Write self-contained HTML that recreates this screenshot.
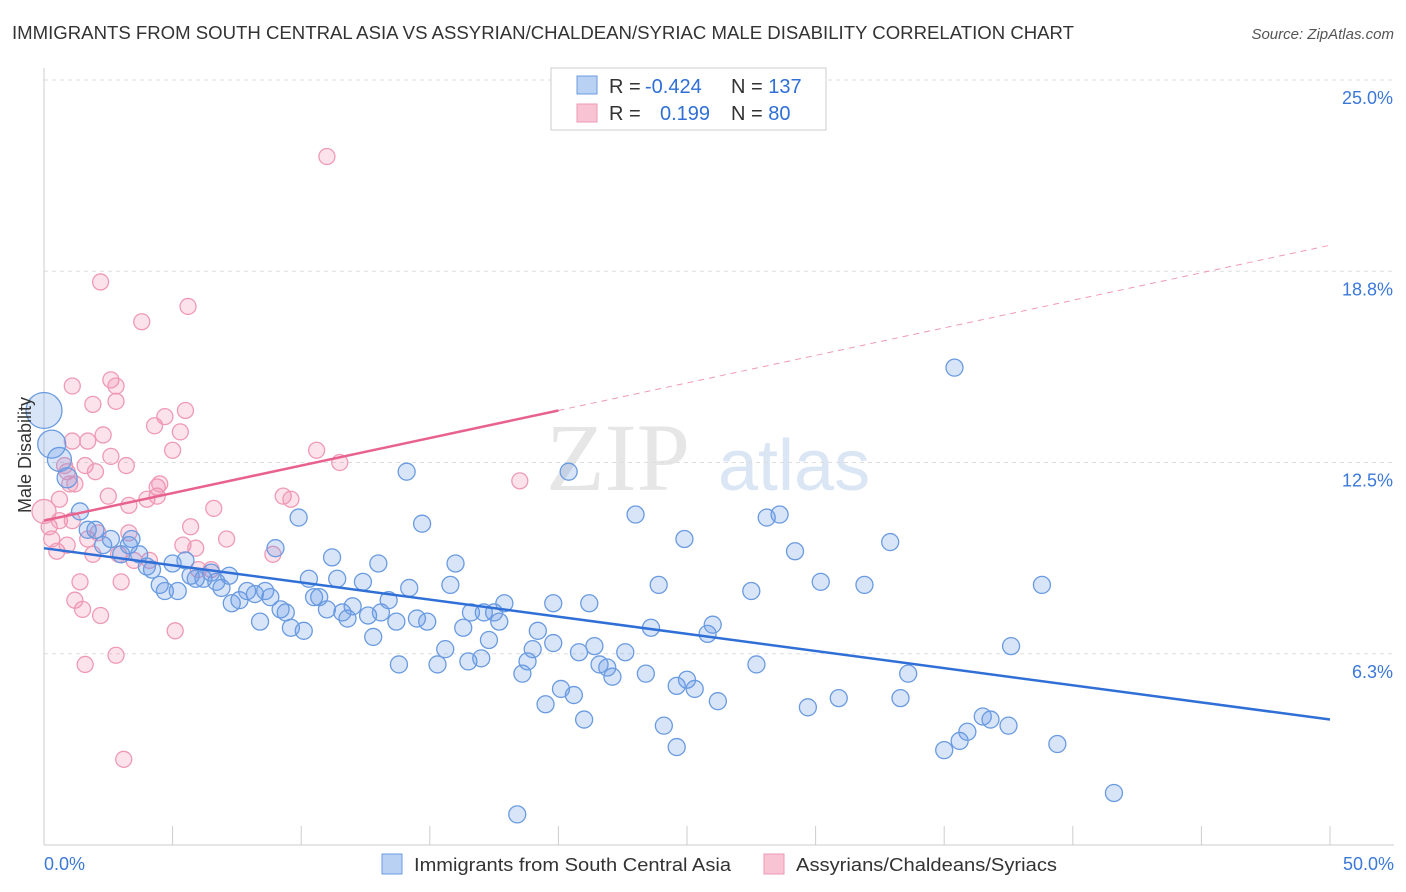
<!DOCTYPE html>
<html><head><meta charset="utf-8"><style>
body{margin:0;background:#fff;font-family:"Liberation Sans",sans-serif;}
svg{display:block}
</style></head><body>
<svg id="c" width="1406" height="892">
<text x="12" y="39" font-size="18" fill="#333" textLength="1062" lengthAdjust="spacingAndGlyphs">IMMIGRANTS FROM SOUTH CENTRAL ASIA VS ASSYRIAN/CHALDEAN/SYRIAC MALE DISABILITY CORRELATION CHART</text>
<text x="1394" y="39" font-size="15" fill="#555" font-style="italic" text-anchor="end">Source: ZipAtlas.com</text>
<text x="690" y="490" font-size="96" fill="#e6e6e6" text-anchor="end" font-family="Liberation Serif">ZIP</text>
<text x="718" y="490" font-size="72" fill="#dbe6f5">atlas</text>
<g id="grid"></g><g id="axes"></g><g id="marks"></g>
<text x="31" y="455" font-size="18" fill="#333" text-anchor="middle" transform="rotate(-90 31 455)">Male Disability</text>
<rect x="551" y="68" width="275" height="62" fill="#fff" stroke="#ccc"/>
<rect x="577" y="76" width="20" height="18" fill="#b9d1f3" stroke="#6a9be0"/>
<rect x="577" y="104" width="20" height="18" fill="#f8c4d4" stroke="#ef9ab5"/>
<text font-size="20" fill="#333"><tspan x="609" y="93">R = </tspan><tspan x="645" fill="#2f6fd6">-0.424</tspan><tspan x="731">N = </tspan><tspan fill="#2f6fd6">137</tspan></text>
<text font-size="20" fill="#333"><tspan x="609" y="120">R = </tspan><tspan x="660" fill="#2f6fd6">0.199</tspan><tspan x="731">N = </tspan><tspan fill="#2f6fd6">80</tspan></text>
<text x="44" y="870" font-size="18" fill="#3b78d8">0.0%</text>
<text x="1394" y="870" font-size="18" fill="#3b78d8" text-anchor="end">50.0%</text>
<rect x="382" y="854" width="20" height="20" fill="#b9d1f3" stroke="#6a9be0"/>
<text x="414" y="871" font-size="18" fill="#333" textLength="317" lengthAdjust="spacingAndGlyphs">Immigrants from South Central Asia</text>
<rect x="764" y="854" width="20" height="20" fill="#f8c4d4" stroke="#ef9ab5"/>
<text x="796" y="871" font-size="18" fill="#333" textLength="261" lengthAdjust="spacingAndGlyphs">Assyrians/Chaldeans/Syriacs</text>
</svg>
<script>
const yTicks=[6.25,12.5,18.75,25];
const yTickLabels=["6.3%","12.5%","18.8%","25.0%"];
const blueX=[0,0.3,0.6,0.9,1.4,1.7,2.0,2.3,2.6,3.0,3.3,3.4,3.7,4.0,4.2,4.5,4.7,5.0,5.2,5.5,5.7,5.9,6.2,6.5,6.7,6.9,7.2,7.3,7.6,7.9,8.2,8.4,8.6,8.8,9.0,9.2,9.4,9.6,9.9,10.1,10.3,10.5,10.7,11.0,11.2,11.4,11.6,11.8,12.0,12.4,12.6,12.8,13.0,13.1,13.4,13.7,13.8,14.1,14.2,14.5,14.7,14.9,15.3,15.6,15.8,16.0,16.3,16.5,16.6,17.0,17.1,17.3,17.5,17.7,17.9,18.4,18.6,18.8,19.0,19.2,19.5,19.8,19.8,20.1,20.4,20.6,20.8,21.0,21.2,21.4,21.6,21.9,22.1,22.6,23.0,23.4,23.6,23.9,24.1,24.6,24.6,24.9,25.0,25.3,25.8,26.0,26.2,27.5,27.7,28.1,28.6,29.2,29.7,30.2,30.9,31.9,32.9,33.3,33.6,35.0,35.4,35.6,35.9,36.5,36.8,37.5,37.6,38.8,39.4,41.6];
const blueY=[14.2,13.1,12.6,12.0,10.9,10.3,10.3,9.8,10.0,9.5,9.8,10.0,9.5,9.1,9.0,8.5,8.3,9.2,8.3,9.3,8.8,8.7,8.7,8.9,8.6,8.4,8.8,7.9,8.0,8.3,8.2,7.3,8.3,8.1,9.7,7.7,7.6,7.1,10.7,7.0,8.7,8.1,8.1,7.7,9.4,8.7,7.6,7.4,7.8,8.6,7.5,6.8,9.2,7.6,8.0,7.3,5.9,12.2,8.4,7.4,10.5,7.3,5.9,6.4,8.5,9.2,7.1,6.0,7.6,6.1,7.6,6.7,7.6,7.3,7.9,1.0,5.6,6.0,6.4,7.0,4.6,7.9,6.6,5.1,12.2,4.9,6.3,4.1,7.9,6.5,5.9,5.8,5.5,6.3,10.8,5.6,7.1,8.5,3.9,5.2,3.2,10.0,5.4,5.1,6.9,7.2,4.7,8.3,5.9,10.7,10.8,9.6,4.5,8.6,4.8,8.5,9.9,4.8,5.6,3.1,15.6,3.4,3.7,4.2,4.1,3.9,6.5,8.5,3.3,1.7];
const blueR=[18,14,12,10];
const pinkX=[0,0.2,0.3,0.5,0.6,0.8,0.9,1.0,1.1,1.2,1.4,1.5,1.6,1.7,1.9,2.0,2.1,2.2,2.2,2.3,2.5,2.6,2.6,2.8,2.9,3.0,3.1,3.2,3.3,3.3,3.5,3.8,4.0,4.1,4.3,4.4,4.4,4.5,4.7,5.0,5.1,5.3,5.4,5.5,5.6,5.7,5.9,6.0,6.5,6.6,7.1,8.9,9.3,9.6,10.6,11.0,11.5,18.5,1.1,1.9,1.7,2.8,0.9,0.6,1.2,1.6,2.8,1.1];
const pinkY=[10.9,10.4,10.0,9.6,10.6,12.4,12.2,11.8,10.6,11.8,8.6,7.7,12.4,10.0,9.5,12.2,10.2,18.4,7.5,13.4,11.4,12.7,15.2,15.0,9.5,8.6,2.8,12.4,10.2,11.1,9.3,17.1,11.3,9.3,13.7,11.4,11.7,11.8,14.0,12.9,7.0,13.5,9.8,14.2,17.6,10.4,9.7,9.0,9.0,11.0,10.0,9.5,11.4,11.3,12.9,22.5,12.5,11.9,15.0,14.4,13.2,14.5,9.8,11.3,8.0,5.9,6.2,13.2];
const blueTrend=[9.7,4.1];
const pinkTrend=[10.6,19.6];
const pinkSolidEnd=20;

const X=v=>44+v*(1286/50), Y=v=>845-v*(765/25);
const NS="http://www.w3.org/2000/svg";
function mk(t,a,p){const e=document.createElementNS(NS,t);for(const k in a)e.setAttribute(k,a[k]);p.appendChild(e);return e;}
const grid=document.getElementById('grid'),axes=document.getElementById('axes'),marks=document.getElementById('marks');
yTicks.forEach((t,i)=>{
 const l=mk('line',{x1:44,x2:1394,y1:Y(t),y2:Y(t),stroke:'#ddd','stroke-dasharray':'4,4'},grid);
 
 
 const tx=mk('text',{x:1393,y:Y(t)+24,'font-size':18,fill:'#3b78d8','text-anchor':'end'},grid);
 tx.textContent=yTickLabels[i];
 
 
});
const ax=mk('line',{x1:44,x2:44,y1:68,y2:845,stroke:'#ccc'},axes);


const bx=mk('line',{x1:44,x2:1394,y1:845,y2:845,stroke:'#ccc'},axes);


for(let v=0;v<=50;v+=5){
 const tk=mk('line',{x1:X(v),x2:X(v),y1:826,y2:845,stroke:'#ccc'},axes);
 
 
}
pinkX.forEach((x,i)=>{
 const c=mk('circle',{cx:X(x),cy:Y(pinkY[i]),r:i===0?12:8,fill:'rgba(240,140,175,0.25)',stroke:'#ef9ab5','stroke-width':1.3},marks);
 
 
});
blueX.forEach((x,i)=>{
 const c=mk('circle',{cx:X(x),cy:Y(blueY[i]),r:blueR[i]||8.5,fill:'rgba(100,150,230,0.25)',stroke:'#6a9be0','stroke-width':1.3},marks);
 
 
});
const bt=mk('line',{x1:X(0),y1:Y(blueTrend[0]),x2:X(50),y2:Y(blueTrend[1]),stroke:'#2f6fd6','stroke-width':2.5},marks);


const pv=v=>pinkTrend[0]+(pinkTrend[1]-pinkTrend[0])*v/50;
const ps=mk('line',{x1:X(0),y1:Y(pv(0)),x2:X(pinkSolidEnd),y2:Y(pv(pinkSolidEnd)),stroke:'#e8628e','stroke-width':2.5},marks);


const pd=mk('line',{x1:X(pinkSolidEnd),y1:Y(pv(pinkSolidEnd)),x2:X(50),y2:Y(pv(50)),stroke:'#ef9ab5','stroke-width':1,'stroke-dasharray':'6,5'},marks);


</script>
</body></html>
